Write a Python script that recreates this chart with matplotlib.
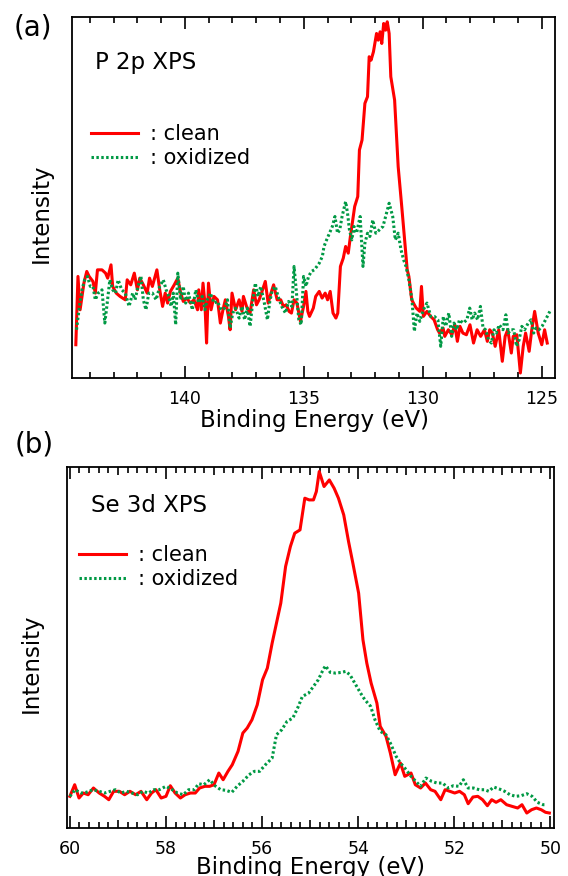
import matplotlib
matplotlib.use('Agg')
import matplotlib.pyplot as plt
from matplotlib.ticker import MultipleLocator, FuncFormatter

plt.rcParams['font.family'] = ['DejaVu Sans']

############ data ##################################################################

# (a) P 2p XPS
p2p_clean_E = [144.59, 144.50, 144.41, 144.25, 144.13, 144.03, 143.87, 143.77, 143.68, 143.49,
               143.34, 143.25, 143.11, 143.04, 142.89, 142.73, 142.51, 142.43, 142.28, 142.13,
               142.00, 141.90, 141.75, 141.59, 141.49, 141.37, 141.18, 141.06, 140.94, 140.83,
               140.73, 140.61, 140.45, 140.30, 140.18, 140.07, 139.92, 139.77, 139.62, 139.47,
               139.42, 139.31, 139.24, 139.16, 139.09, 139.01, 138.90, 138.78, 138.63, 138.51,
               138.40, 138.30, 138.17, 138.10, 138.02, 137.87, 137.72, 137.60, 137.54, 137.41,
               137.26, 137.11, 136.99, 136.88, 136.78, 136.62, 136.50, 136.38, 136.27, 136.12,
               135.97, 135.86, 135.74, 135.62, 135.52, 135.41, 135.29, 135.14, 135.01, 134.91,
               134.83, 134.76, 134.60, 134.50, 134.35, 134.23, 134.10, 134.00, 133.89, 133.77,
               133.65, 133.57, 133.46, 133.34, 133.24, 133.13, 133.04, 132.98, 132.86, 132.73,
               132.66, 132.55, 132.43, 132.32, 132.25, 132.17, 132.07, 131.94, 131.87, 131.79,
               131.72, 131.64, 131.56, 131.49, 131.41, 131.34, 131.18, 131.03, 130.88, 130.76,
               130.65, 130.58, 130.46, 130.35, 130.27, 130.12, 130.05, 129.97, 129.82, 129.67,
               129.52, 129.37, 129.29, 129.14, 129.07, 128.92, 128.77, 128.65, 128.54, 128.43,
               128.31, 128.16, 128.01, 127.86, 127.71, 127.56, 127.40, 127.28, 127.18, 127.07,
               126.95, 126.80, 126.65, 126.53, 126.42, 126.27, 126.19, 126.04, 125.89, 125.77,
               125.67, 125.52, 125.41, 125.29, 125.14, 124.99, 124.87, 124.76]
p2p_clean_I = [33.3, 101.7, 68.3, 95, 106.7, 101.7, 96.7, 85, 108.3, 108.3,
               105, 100, 113.3, 91.7, 85, 81.7, 78.3, 98.3, 93.3, 105,
               88.3, 100, 93.3, 85, 100, 91.7, 108.3, 88.3, 71.7, 85,
               75, 86.7, 93.3, 100, 85, 76.7, 80, 75, 78.3, 68.3,
               88.3, 68.3, 95, 75, 35, 95, 68.3, 81.7, 78.3, 55,
               68.3, 78.3, 61.7, 48.3, 85, 68.3, 78.3, 66.7, 81.7, 71.7,
               65, 88.3, 73.3, 78.3, 85, 96.7, 75, 85, 93.3, 78.3,
               78.3, 71.7, 73.3, 66.7, 65, 78.3, 75, 56.7, 71.7, 86.7,
               66.7, 61.7, 70, 81.7, 86.7, 80, 85, 78.3, 86.7, 65,
               60, 65, 111.7, 120, 131.7, 125, 141.7, 151.7, 171.7, 181.7,
               228.3, 238.3, 275, 281.7, 321.7, 318.3, 326.7, 345, 338.3, 346.7,
               335, 355, 348.3, 356.7, 345, 301.7, 278.3, 211.7, 171.7, 138.3,
               108.3, 101.7, 78.3, 73.3, 70, 66.7, 91.7, 61.7, 66.7, 61.7,
               58.3, 48.3, 45, 50, 41.7, 48.3, 43.3, 53.3, 36.7, 51.7,
               45, 43.3, 53.3, 35, 48.3, 41.7, 48.3, 36.7, 48.3, 45,
               31.7, 48.3, 16.7, 41.7, 48.3, 25, 41.7, 43.3, 5, 31.7,
               45, 26.7, 48.3, 66.7, 45, 33.3, 48.3, 35]

p2p_oxid_E = [144.56, 144.44, 144.33, 144.22, 144.10, 143.98, 143.87, 143.77, 143.65, 143.49,
              143.37, 143.27, 143.16, 143.04, 142.92, 142.81, 142.66, 142.51, 142.35, 142.20,
              142.10, 141.97, 141.85, 141.75, 141.64, 141.52, 141.37, 141.21, 141.06, 140.91,
              140.79, 140.68, 140.58, 140.49, 140.39, 140.30, 140.18, 140.07, 139.97, 139.85,
              139.69, 139.54, 139.42, 139.27, 139.16, 139.06, 138.93, 138.78, 138.63, 138.48,
              138.33, 138.21, 138.10, 137.99, 137.87, 137.72, 137.60, 137.49, 137.38, 137.26,
              137.14, 137.04, 136.93, 136.81, 136.66, 136.53, 136.43, 136.32, 136.20, 136.08,
              135.93, 135.77, 135.64, 135.50, 135.41, 135.32, 135.21, 135.11, 135.01, 134.91,
              134.80, 134.68, 134.56, 134.45, 134.35, 134.22, 134.15, 134.04, 133.92, 133.80,
              133.69, 133.58, 133.49, 133.39, 133.24, 133.16, 133.08, 132.98, 132.89, 132.78,
              132.63, 132.51, 132.43, 132.32, 132.22, 132.10, 131.97, 131.82, 131.67, 131.56,
              131.41, 131.26, 131.15, 131.03, 130.91, 130.80, 130.70, 130.58, 130.45, 130.35,
              130.24, 130.12, 129.97, 129.82, 129.66, 129.51, 129.36, 129.24, 129.13, 129.03,
              128.90, 128.78, 128.68, 128.57, 128.45, 128.30, 128.14, 128.02, 127.92, 127.81,
              127.69, 127.57, 127.46, 127.35, 127.23, 127.11, 127.00, 126.90, 126.78, 126.62,
              126.50, 126.40, 126.29, 126.17, 126.05, 125.94, 125.83, 125.71, 125.56, 125.44,
              125.33, 125.23, 125.11, 124.98, 124.83, 124.65]
p2p_oxid_I = [48.3, 71.7, 88.3, 98.3, 101.7, 91.7, 91.7, 78.3, 85, 88.3,
              55, 75, 98.3, 88.3, 85, 98.3, 88.3, 85, 71.7, 85,
              78.3, 91.7, 101.7, 78.3, 68.3, 85, 85, 78.3, 91.7, 98.3,
              88.3, 81.7, 71.7, 85, 53.3, 105, 78.3, 91.7, 75, 85,
              68.3, 88.3, 75, 81.7, 68.3, 78.3, 85, 75, 76.7, 68.3,
              70, 78.3, 50, 65, 70, 60, 71.7, 58.3, 70, 51.7,
              78.3, 95, 81.7, 91.7, 75, 58.3, 76.7, 88.3, 91.7, 81.7,
              71.7, 65, 76.7, 71.7, 111.7, 88.3, 58.3, 53.3, 101.7, 91.7,
              101.7, 106.7, 108.3, 111.7, 115, 121.7, 131.7, 138.3, 145, 151.7,
              161.7, 145, 148.3, 161.7, 176.7, 165, 148.3, 138.3, 151.7, 145,
              161.7, 111.7, 135, 145, 141.7, 158.3, 145, 148.3, 151.7, 161.7,
              175, 161.7, 138.3, 145, 128.3, 118.3, 111.7, 98.3, 78.3, 46.7,
              65, 56.7, 68.3, 75, 61.7, 61.7, 58.3, 31.7, 61.7, 51.7,
              65, 41.7, 55, 48.3, 58.3, 55, 58.3, 70, 58.3, 65,
              58.3, 71.7, 50, 48.3, 38.3, 35, 48.3, 45, 53.3, 48.3,
              63.3, 45, 48.3, 48.3, 31.7, 38.3, 51.7, 48.3, 55, 58.3,
              45, 50, 48.3, 51.7, 58.3, 66.7]

# (b) Se 3d XPS
se3d_clean_E = [60.00, 59.90, 59.81, 59.72, 59.62, 59.51, 59.39, 59.28, 59.19, 59.09,
                58.97, 58.86, 58.75, 58.63, 58.52, 58.40, 58.30, 58.21, 58.10, 58.00,
                57.91, 57.81, 57.70, 57.60, 57.49, 57.39, 57.30, 57.19, 57.09, 57.00,
                56.90, 56.81, 56.71, 56.62, 56.50, 56.40, 56.31, 56.21, 56.10, 55.99,
                55.89, 55.79, 55.70, 55.61, 55.51, 55.41, 55.32, 55.21, 55.11, 55.02,
                54.93, 54.87, 54.81, 54.71, 54.60, 54.50, 54.41, 54.30, 54.20, 54.11,
                53.99, 53.90, 53.82, 53.73, 53.61, 53.54, 53.42, 53.33, 53.23, 53.12,
                53.03, 52.90, 52.81, 52.70, 52.60, 52.49, 52.40, 52.28, 52.19, 52.09,
                51.99, 51.89, 51.79, 51.71, 51.61, 51.51, 51.41, 51.31, 51.22, 51.13,
                51.03, 50.91, 50.80, 50.68, 50.59, 50.49, 50.39, 50.29, 50.19, 50.10,
                50.02]
se3d_clean_I = [31.7, 43.3, 30, 35, 33.3, 40, 35, 31.7, 28.3, 36.7,
                36.7, 33.3, 36.7, 33.3, 36.7, 28.3, 35, 38.3, 30, 31.7,
                42.3, 35, 30, 33.3, 35, 35, 40, 41.7, 41.7, 43.3,
                55, 48.3, 56.7, 63.3, 76.7, 95, 100, 108.3, 123.3, 148.3,
                160, 185, 205, 225, 261.7, 281.7, 295, 298.3, 330, 328.3,
                328.3, 336.7, 356.7, 341.7, 348.3, 340, 330, 313.3, 286.7, 265,
                235, 188.3, 165, 145, 125, 101.7, 91.7, 75, 53.3, 65,
                51.7, 55, 43.3, 40, 45, 38.3, 36.7, 28.3, 38.3, 36.7,
                35, 36.7, 33.3, 24.3, 31, 31.7, 28.3, 22.3, 28.3, 25.7,
                28.3, 23.3, 21.7, 20, 23.3, 15, 18.3, 20, 18.3, 15.7,
                15]

se3d_oxid_E = [60.00, 59.89, 59.77, 59.66, 59.52, 59.39, 59.28, 59.16, 59.05, 58.94,
               58.82, 58.71, 58.59, 58.48, 58.37, 58.25, 58.14, 58.00, 57.87, 57.76,
               57.64, 57.53, 57.41, 57.32, 57.21, 57.09, 56.98, 56.86, 56.75, 56.63,
               56.52, 56.40, 56.27, 56.16, 56.05, 55.93, 55.79, 55.70, 55.59, 55.48,
               55.36, 55.26, 55.16, 55.03, 54.93, 54.83, 54.73, 54.68, 54.58, 54.47,
               54.35, 54.26, 54.17, 54.07, 53.95, 53.86, 53.74, 53.65, 53.54, 53.42,
               53.33, 53.21, 53.12, 53.00, 52.90, 52.80, 52.70, 52.59, 52.47, 52.36,
               52.24, 52.13, 52.02, 51.90, 51.81, 51.71, 51.60, 51.48, 51.37, 51.28,
               51.18, 51.06, 50.95, 50.84, 50.72, 50.61, 50.49, 50.38, 50.27, 50.15,
               50.08]
se3d_oxid_I = [31.7, 38.3, 35, 35.7, 38.3, 36.7, 35, 36.7, 38.3, 35,
               36.7, 35, 33.3, 36.7, 35, 38.3, 38.3, 41.7, 38.3, 35,
               33.3, 38.3, 38.3, 44.3, 43.3, 48.3, 42.3, 38.3, 37.7, 35.7,
               41.7, 46.7, 53.3, 56.7, 56.7, 63.3, 70, 93.3, 98.3, 106.7,
               110, 120, 131.7, 135, 141.7, 148.3, 158.3, 162.3, 155.7, 155,
               155.7, 156.7, 153.3, 145, 135, 128.3, 121.7, 108.3, 96.7, 93.3,
               85, 71.7, 65, 58.3, 51.7, 46.7, 41.7, 50, 46.7, 45,
               45, 40, 42.3, 41.7, 48.3, 40, 40, 38.3, 38.3, 36.7,
               41, 39, 36.7, 33.3, 31.7, 32.3, 34.3, 31.7, 25.7, 23.3,
               23.3]

RED = '#ff0000'
GREEN = '#009944'

############ functions #############################################################

def draw_panel(ax, E_clean, I_clean, E_oxid, I_oxid, xlim, title, title_y, leg_anchor):
    ax.plot(E_clean, I_clean, color=RED, lw=2.2, label=': clean')
    ax.plot(E_oxid, I_oxid, color=GREEN, lw=2.2, ls=(0, (0.8, 0.8)), label=': oxidized')
    ax.set_xlim(xlim)
    ax.set_ylim(0, 361.5)
    ax.set_yticks([])
    for s in ax.spines.values():
        s.set_linewidth(1.3)
    ax.tick_params(axis='x', which='both', direction='in', top=True, bottom=True,
                   width=1.2, labelsize=12.5, pad=8.5)
    ax.text(0.048, title_y, title, transform=ax.transAxes, fontsize=16.5, va='center')
    ax.legend(loc='upper left', bbox_to_anchor=leg_anchor, frameon=False, fontsize=15,
              handlelength=2.26, handletextpad=0.6, labelspacing=0.2,
              borderpad=0, borderaxespad=0)
    ax.set_xlabel('Binding Energy (eV)', fontsize=16.5)
    ax.set_ylabel('Intensity', fontsize=16.5)

############ main code #############################################################

fig = plt.figure(figsize=(5.68, 8.76), dpi=100)

# panel (a)
ax1 = fig.add_axes([0.1268, 0.5685, 0.8496, 0.4121])
draw_panel(ax1, p2p_clean_E, p2p_clean_I, p2p_oxid_E, p2p_oxid_I,
           (144.75, 124.45), 'P 2p XPS', 0.875, (0.039, 0.703))
ax1.xaxis.set_major_locator(MultipleLocator(5))
ax1.xaxis.set_minor_locator(MultipleLocator(1))
ax1.tick_params(axis='x', which='major', length=8.6)
ax1.tick_params(axis='x', which='minor', length=4.3, width=1.2)
ax1.xaxis.set_label_coords(0.503, -0.086)
ax1.yaxis.set_label_coords(-0.04, 0.457)

# panel (b)
ax2 = fig.add_axes([0.1188, 0.0548, 0.8560, 0.4124])
draw_panel(ax2, se3d_clean_E, se3d_clean_I, se3d_oxid_E, se3d_oxid_I,
           (60.05, 49.93), 'Se 3d XPS', 0.893, (0.023, 0.783))
ax2.xaxis.set_major_locator(MultipleLocator(1))
ax2.xaxis.set_minor_locator(MultipleLocator(0.2))
ax2.xaxis.set_major_formatter(FuncFormatter(lambda v, p: '%d' % round(v) if round(v) % 2 == 0 else ''))
ax2.tick_params(axis='x', which='minor', length=4.1, width=1.2)
# long ticks every 2 eV, medium ticks at odd values
for loc, t in zip(ax2.xaxis.get_majorticklocs(), ax2.xaxis.get_major_ticks()):
    L = 8.3 if round(loc) % 2 == 0 else 5.8
    t.tick1line.set_markersize(L)
    t.tick2line.set_markersize(L)
ax2.xaxis.set_label_coords(0.50, -0.078)
ax2.yaxis.set_label_coords(-0.05, 0.457)

fig.text(0.058, 0.969, '(a)', fontsize=20, ha='center', va='center')
fig.text(0.060, 0.493, '(b)', fontsize=20, ha='center', va='center')

fig.savefig('out.png', dpi=100)
